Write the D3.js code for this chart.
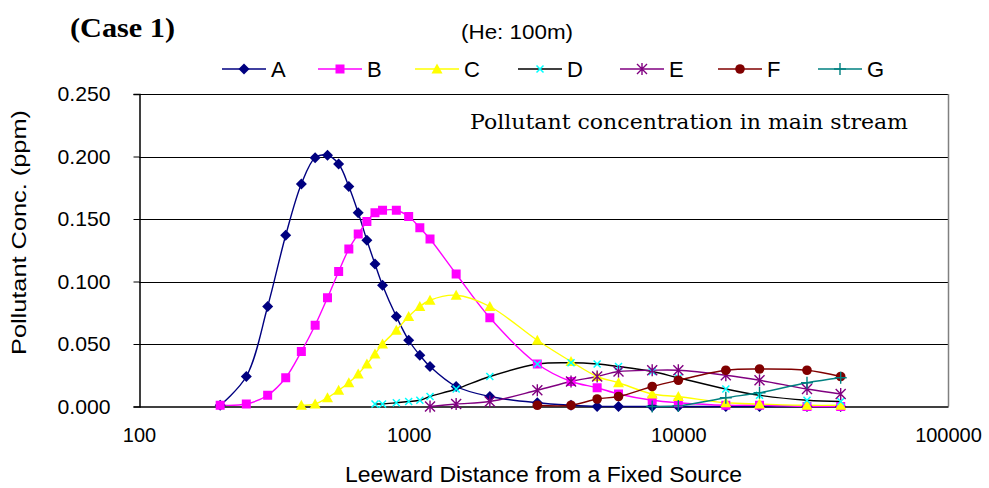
<!DOCTYPE html>
<html>
<head>
<meta charset="utf-8">
<script src="https://cdn.jsdelivr.net/npm/d3@7"></script>
<style>
  body { margin: 0; background: #fff; }
  text { fill: #000; }
</style>
</head>
<body>
<div id="chart"></div>
<script>
// Leeward distances (m)
const distances = [200, 250, 300, 350, 400, 450, 500, 550, 600, 650, 700, 750, 800, 900, 1000,
  1100, 1200, 1500, 2000, 3000, 4000, 5000, 6000, 8000, 10000, 15000, 20000, 30000, 40000];

// Concentrations (ppm), null where the series has no point
const seriesA = [0.001, 0.024, 0.080, 0.137, 0.178, 0.199, 0.201, 0.194, 0.176, 0.155, 0.133, 0.114, 0.097, 0.072, 0.053,
  0.041, 0.032, 0.016, 0.008, 0.003, 0.001, 0, 0, 0, 0, 0, 0, 0, 0];
const seriesB = [0.001, 0.002, 0.009, 0.023, 0.044, 0.065, 0.087, 0.108, 0.126, 0.138, 0.148, 0.155, 0.157, 0.157, 0.152,
  0.143, 0.134, 0.106, 0.071, 0.034, 0.020, 0.015, 0.010, 0.005, 0.003, 0.001, 0.001, 0, 0];
const seriesC = [null, null, null, null, 0.001, 0.002, 0.007, 0.013, 0.019, 0.026, 0.034, 0.042, 0.050, 0.061, 0.072,
  0.080, 0.085, 0.089, 0.080, 0.053, 0.036, 0.024, 0.019, 0.010, 0.008, 0.003, 0.002, 0.001, 0.001];
const seriesD = [null, null, null, null, null, null, null, null, null, null, null, 0.002, 0.002, 0.003, 0.004,
  0.005, 0.008, 0.014, 0.024, 0.034, 0.035, 0.034, 0.032, 0.028, 0.023, 0.014, 0.009, 0.005, 0.004];
const seriesE = [null, null, null, null, null, null, null, null, null, null, null, null, null, null, null,
  null, 0, 0.002, 0.004, 0.013, 0.020, 0.024, 0.028, 0.029, 0.029, 0.025, 0.021, 0.014, 0.010];
const seriesF = [null, null, null, null, null, null, null, null, null, null, null, null, null, null, null,
  null, null, null, null, 0.001, 0.001, 0.006, 0.008, 0.016, 0.021, 0.029, 0.030, 0.029, 0.024];
const seriesG = [null, null, null, null, null, null, null, null, null, null, null, null, null, null, null,
  null, null, null, null, null, null, null, null, 0, 0.0005, 0.007, 0.011, 0.019, 0.023];

const seriesNames = ["A", "B", "C", "D", "E", "F", "G"];
const yTicks = [0, 0.05, 0.1, 0.15, 0.2, 0.25];
const xTicks = [100, 1000, 10000, 100000];

const sans = "'Liberation Sans', Arial, sans-serif";

const series = [
  { values: seriesA, line: "#000080", fill: "#000080", shape: "diamond" },
  { values: seriesB, line: "#ff00ff", fill: "#ff00ff", shape: "square" },
  { values: seriesC, line: "#ffff00", fill: "#ffff00", shape: "triangle" },
  { values: seriesD, line: "#000000", fill: "#00ffff", shape: "cross" },
  { values: seriesE, line: "#800080", fill: "#800080", shape: "star" },
  { values: seriesF, line: "#800000", fill: "#800000", shape: "circle" },
  { values: seriesG, line: "#008080", fill: "#008080", shape: "plus" }
];

const width = 989, height = 488;
const plot = { left: 139, right: 948, top: 94, bottom: 406.5 };

const svg = d3.select("#chart").append("svg")
  .attr("width", width).attr("height", height);

const x = d3.scaleLog().domain([100, 100000]).range([plot.left, plot.right]);
const y = d3.scaleLinear().domain([0, 0.25]).range([plot.bottom, plot.top]);

// gridlines
svg.append("g")
  .selectAll("line").data(yTicks.slice(1)).join("line")
  .attr("x1", plot.left).attr("x2", plot.right)
  .attr("y1", d => Math.round(y(d)) + 0.5).attr("y2", d => Math.round(y(d)) + 0.5)
  .attr("stroke", "#000").attr("stroke-width", 1);

// right border
svg.append("line")
  .attr("x1", plot.right + 0.5).attr("x2", plot.right + 0.5)
  .attr("y1", plot.top).attr("y2", plot.bottom)
  .attr("stroke", "#808080").attr("stroke-width", 1.5);

// y axis
const yAxis = svg.append("g")
  .attr("transform", `translate(${plot.left + 0.5},0)`)
  .call(d3.axisLeft(y).tickValues(yTicks).tickFormat(d3.format(".3f")).tickSize(6).tickPadding(23));
yAxis.select(".domain").attr("stroke", "#000").attr("stroke-width", 1.5);
yAxis.selectAll("text").style("font-family", sans).style("font-size", "21px")
  .attr("textLength", 53).attr("lengthAdjust", "spacingAndGlyphs");

// x axis
const xAxis = svg.append("g")
  .attr("transform", `translate(0,${plot.bottom})`)
  .call(d3.axisBottom(x).tickValues(xTicks).tickFormat(d3.format("d")).tickSize(0).tickPadding(21));
xAxis.select(".domain").attr("stroke", "#000").attr("stroke-width", 1.5);
xAxis.selectAll("text").style("font-family", sans).style("font-size", "20px");

// marker shapes
function marker(sel, shape, color) {
  if (shape === "diamond") {
    sel.append("path").attr("d", "M0,-5.5L5.5,0L0,5.5L-5.5,0Z").attr("fill", color);
  } else if (shape === "square") {
    sel.append("rect").attr("x", -4.5).attr("y", -4.5).attr("width", 9).attr("height", 9).attr("fill", color);
  } else if (shape === "triangle") {
    sel.append("path").attr("d", "M0,-5.5L5.5,4.5L-5.5,4.5Z").attr("fill", color);
  } else if (shape === "circle") {
    sel.append("circle").attr("r", 4.8).attr("fill", color);
  } else if (shape === "cross") {
    sel.append("path").attr("d", "M-3.5,-3.5L3.5,3.5M-3.5,3.5L3.5,-3.5")
      .attr("stroke", color).attr("stroke-width", 1.5).attr("fill", "none");
  } else if (shape === "star") {
    sel.append("path").attr("d", "M0,-6V6M-5,-5L5,5M-5,5L5,-5")
      .attr("stroke", color).attr("stroke-width", 1.4).attr("fill", "none");
  } else if (shape === "plus") {
    sel.append("path").attr("d", "M0,-6V6M-6,0H6")
      .attr("stroke", color).attr("stroke-width", 1.4).attr("fill", "none");
  }
}

const line = d3.line()
  .x(d => x(d.x))
  .y(d => y(d.v))
  .curve(d3.curveCatmullRom.alpha(0.5));

series.forEach(s => {
  const pts = distances.map((dx, i) => ({ x: dx, v: s.values[i] })).filter(d => d.v !== null);
  svg.append("path").datum(pts)
    .attr("fill", "none")
    .attr("stroke", s.line)
    .attr("stroke-width", 1.4)
    .attr("d", line);
});

series.forEach(s => {
  const pts = distances.map((dx, i) => ({ x: dx, v: s.values[i] })).filter(d => d.v !== null);
  svg.append("g").selectAll("g").data(pts).join("g")
    .attr("transform", d => `translate(${x(d.x)},${y(d.v)})`)
    .each(function () { marker(d3.select(this), s.shape, s.fill); });
});

// legend
const legendX = [222, 318, 415, 518, 620, 718, 818];
const legend = svg.append("g");
series.forEach((s, i) => {
  const g = legend.append("g").attr("transform", `translate(${legendX[i]},69)`);
  g.append("line").attr("x1", 0).attr("x2", 44).attr("stroke", s.line).attr("stroke-width", 1.4);
  const m = g.append("g").attr("transform", "translate(22,0)");
  marker(m, s.shape, s.fill);
  g.append("text").attr("x", 49).attr("y", 8)
    .style("font-family", sans).style("font-size", "22px")
    .text(seriesNames[i]);
});

// titles
svg.append("text")
  .attr("x", 70).attr("y", 37)
  .style("font-family", "'Liberation Serif', serif")
  .style("font-weight", "bold").style("font-size", "27px")
  .attr("textLength", 105).attr("lengthAdjust", "spacingAndGlyphs")
  .text("(Case 1)");

svg.append("text")
  .attr("x", 461).attr("y", 39)
  .style("font-family", sans).style("font-size", "21px")
  .attr("textLength", 112).attr("lengthAdjust", "spacingAndGlyphs")
  .text("(He: 100m)");

svg.append("text")
  .attr("x", 470).attr("y", 129)
  .style("font-family", "'DejaVu Serif', serif").style("font-size", "20px")
  .attr("textLength", 438).attr("lengthAdjust", "spacingAndGlyphs")
  .text("Pollutant concentration in main stream");

svg.append("text")
  .attr("x", 345).attr("y", 482)
  .style("font-family", sans).style("font-size", "22px")
  .attr("textLength", 397).attr("lengthAdjust", "spacingAndGlyphs")
  .text("Leeward Distance from a Fixed Source");

svg.append("text")
  .attr("transform", "translate(26,355) rotate(-90)")
  .style("font-family", sans).style("font-size", "21px")
  .attr("textLength", 245).attr("lengthAdjust", "spacingAndGlyphs")
  .text("Pollutant Conc. (ppm)");
</script>
</body>
</html>
